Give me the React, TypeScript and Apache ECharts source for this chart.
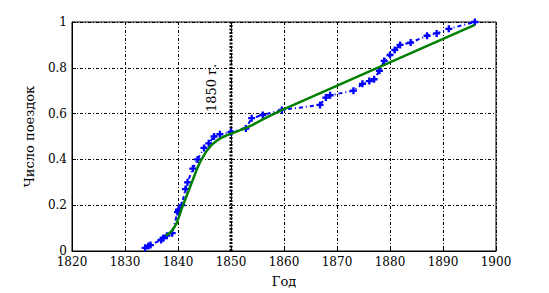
import React, { useEffect, useRef } from "react";
import * as echarts from "echarts";

const blueYears = [1833.8, 1834.4, 1834.8, 1836.8, 1837.2, 1837.9, 1838.9, 1839.9, 1840.1, 1840.7, 1841.4, 1841.8, 1842.8, 1843.7, 1844.9, 1845.8, 1846.8, 1847.9, 1850.0, 1852.8, 1853.9, 1856.0, 1859.6, 1866.8, 1867.9, 1868.7, 1873.1, 1874.8, 1876.1, 1877.0, 1878.0, 1878.9, 1880.0, 1880.9, 1881.9, 1883.9, 1887.0, 1888.8, 1891.1, 1896.0];
const blueValues = [0.014, 0.022, 0.026, 0.048, 0.056, 0.067, 0.078, 0.17, 0.18, 0.2, 0.27, 0.3, 0.36, 0.4, 0.45, 0.47, 0.5, 0.51, 0.52, 0.535, 0.58, 0.594, 0.616, 0.638, 0.67, 0.68, 0.7, 0.73, 0.742, 0.75, 0.787, 0.83, 0.856, 0.878, 0.9, 0.91, 0.94, 0.95, 0.97, 1.0];

const greenYears = [1837.7, 1838.2, 1838.7, 1839.2, 1839.7, 1840.2, 1840.7, 1841.2, 1841.7, 1842.2, 1842.7, 1843.2, 1843.7, 1844.2, 1844.7, 1845.2, 1845.7, 1846.2, 1846.8, 1847.4, 1848, 1848.7, 1849.5, 1850.5, 1851.5, 1852.7, 1854, 1856, 1858, 1860, 1896];
const greenValues = [0.067, 0.075, 0.085, 0.1, 0.12, 0.15, 0.185, 0.215, 0.245, 0.275, 0.305, 0.335, 0.365, 0.39, 0.41, 0.43, 0.445, 0.46, 0.472, 0.483, 0.492, 0.5, 0.508, 0.517, 0.526, 0.537, 0.55, 0.575, 0.598, 0.62, 0.987];

const markerYear = 1850;
const xLabel = "Год";
const yLabel = "Число поездок";
const annotation = "1850 г.";

const FONT = "DejaVu Serif";
const plusPath = "path://M2,0h2v2h2v2h-2v2h-2v-2h-2v-2h2z";

export default function App() {
  const ref = useRef<HTMLDivElement>(null);
  useEffect(() => {
    const chart = echarts.init(ref.current!, null, { renderer: "svg" });
    const gridLine = { show: true, lineStyle: { color: "#000", width: 1, type: [3, 2, 1, 2] as any } };
    chart.setOption({
      animation: false,
      backgroundColor: "#fff",
      textStyle: { fontFamily: FONT },
      grid: { left: 72, top: 22, right: 53, bottom: 42, show: true, borderColor: "#000", borderWidth: 1 },
      xAxis: {
        type: "value",
        min: 1820,
        max: 1900,
        interval: 10,
        name: xLabel,
        nameLocation: "middle",
        nameGap: 24,
        nameTextStyle: { fontFamily: FONT, fontSize: 13, color: "#000" },
        axisLine: { lineStyle: { color: "#000", width: 1 } },
        axisTick: { inside: true, length: 4, lineStyle: { color: "#000" } },
        axisLabel: { fontFamily: FONT, fontSize: 12, color: "#000", margin: 5, formatter: (v: number) => String(v) },
        splitLine: gridLine,
      },
      yAxis: {
        type: "value",
        min: 0,
        max: 1,
        interval: 0.2,
        name: yLabel,
        nameLocation: "middle",
        nameGap: 36,
        nameTextStyle: { fontFamily: FONT, fontSize: 13, color: "#000" },
        axisLine: { show: true, lineStyle: { color: "#000", width: 1 } },
        axisTick: { show: true, inside: true, length: 4, lineStyle: { color: "#000" } },
        axisLabel: { fontFamily: FONT, fontSize: 12, color: "#000", margin: 5, formatter: (v: number) => String(+v.toFixed(1)) },
        splitLine: gridLine,
      },
      series: [
        {
          type: "line",
          data: [[markerYear, 0], [markerYear, 1]],
          symbol: "none",
          lineStyle: { color: "#000", width: 3, type: [2, 1.5] as any },
          z: 3,
        },
        {
          type: "line",
          data: blueYears.map((y, i) => [y, blueValues[i]]),
          symbol: plusPath,
          symbolSize: 7,
          itemStyle: { color: "#0000ff" },
          lineStyle: { color: "#0000ff", width: 2, type: [4, 3, 1, 3] as any },
          z: 4,
        },
        {
          type: "line",
          data: greenYears.map((y, i) => [y, greenValues[i]]),
          symbol: "none",
          smooth: false,
          lineStyle: { color: "#008000", width: 2.5 },
          z: 5,
        },
      ],
      graphic: [
        {
          type: "text",
          x: 211,
          y: 88,
          rotation: Math.PI / 2,
          style: { text: annotation, fontFamily: FONT, fontSize: 13, fill: "#000", align: "center", verticalAlign: "middle" },
        },
      ],
    });
    return () => chart.dispose();
  }, []);
  return <div ref={ref} style={{ position: "fixed", left: 0, top: 0, width: 549, height: 293 }} />;
}
